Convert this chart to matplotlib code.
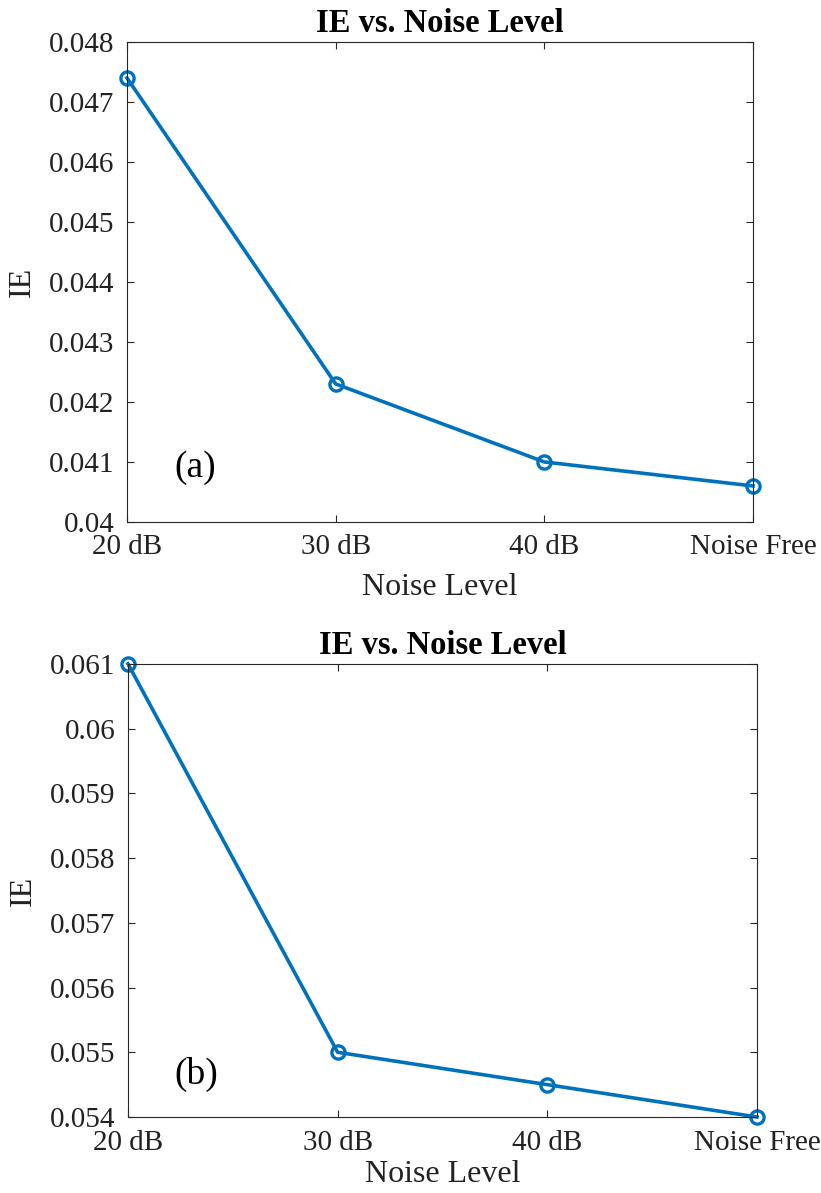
import matplotlib
matplotlib.use("Agg")
import matplotlib.pyplot as plt

# noise conditions on the x axis
levels = ["20 dB", "30 dB", "40 dB", "Noise Free"]

# IE values for the two cases
ie_a = [0.0474, 0.0423, 0.0410, 0.0406]
ie_b = [0.0610, 0.0550, 0.0545, 0.0540]

ticks_a = [0.040, 0.041, 0.042, 0.043, 0.044, 0.045, 0.046, 0.047, 0.048]
ticks_a_lbl = ["0.04", "0.041", "0.042", "0.043", "0.044", "0.045", "0.046", "0.047", "0.048"]
ticks_b = [0.054, 0.055, 0.056, 0.057, 0.058, 0.059, 0.060, 0.061]
ticks_b_lbl = ["0.054", "0.055", "0.056", "0.057", "0.058", "0.059", "0.06", "0.061"]

plt.rcParams["font.family"] = ["Liberation Serif", "DejaVu Serif"]

blue = "#0072BD"
edge = "#262626"

fig = plt.figure(figsize=(8.21, 11.93), dpi=100)
ax1 = fig.add_axes([0.1547, 0.5625, 0.7625, 0.4023])
ax2 = fig.add_axes([0.1559, 0.0637, 0.7661, 0.3798])


def style(ax, yticks, ylbls, tag, tag_pos, xpad):
    x = list(range(len(levels)))
    ax.set_xlim(0, len(levels) - 1)
    ax.set_ylim(yticks[0], yticks[-1])
    ax.set_xticks(x)
    ax.set_xticklabels(levels)
    ax.set_yticks(yticks)
    ax.set_yticklabels(ylbls)
    ax.tick_params(direction="in", length=5, width=0.8, color=edge,
                   labelsize=21, labelcolor="#222222", top=True, right=True)
    ax.tick_params(axis="x", pad=9)
    ax.tick_params(axis="y", pad=9)
    for s in ax.spines.values():
        s.set_color(edge)
        s.set_linewidth(0.8)
    ax.set_title("IE vs. Noise Level", fontsize=23.5, fontweight="bold", pad=7)
    ax.set_xlabel("Noise Level", fontsize=23, color="#222222", labelpad=xpad)
    ax.set_ylabel("IE", fontsize=23, color="#222222", labelpad=9)
    ax.text(tag_pos[0], tag_pos[1], tag, transform=ax.transAxes, fontsize=27,
            ha="center", va="center", color="black")


ax1.plot(range(len(levels)), ie_a, color=blue, lw=2.6, marker="o", ms=9.5,
         mfc="none", mew=2.4, clip_on=False)
style(ax1, ticks_a, ticks_a_lbl, "(a)", (0.109, 0.113), 9)

ax2.plot(range(len(levels)), ie_b, color=blue, lw=2.6, marker="o", ms=9.5,
         mfc="none", mew=2.4, clip_on=False)
style(ax2, ticks_b, ticks_b_lbl, "(b)", (0.108, 0.093), 3)

fig.savefig("out.png", dpi=100)
